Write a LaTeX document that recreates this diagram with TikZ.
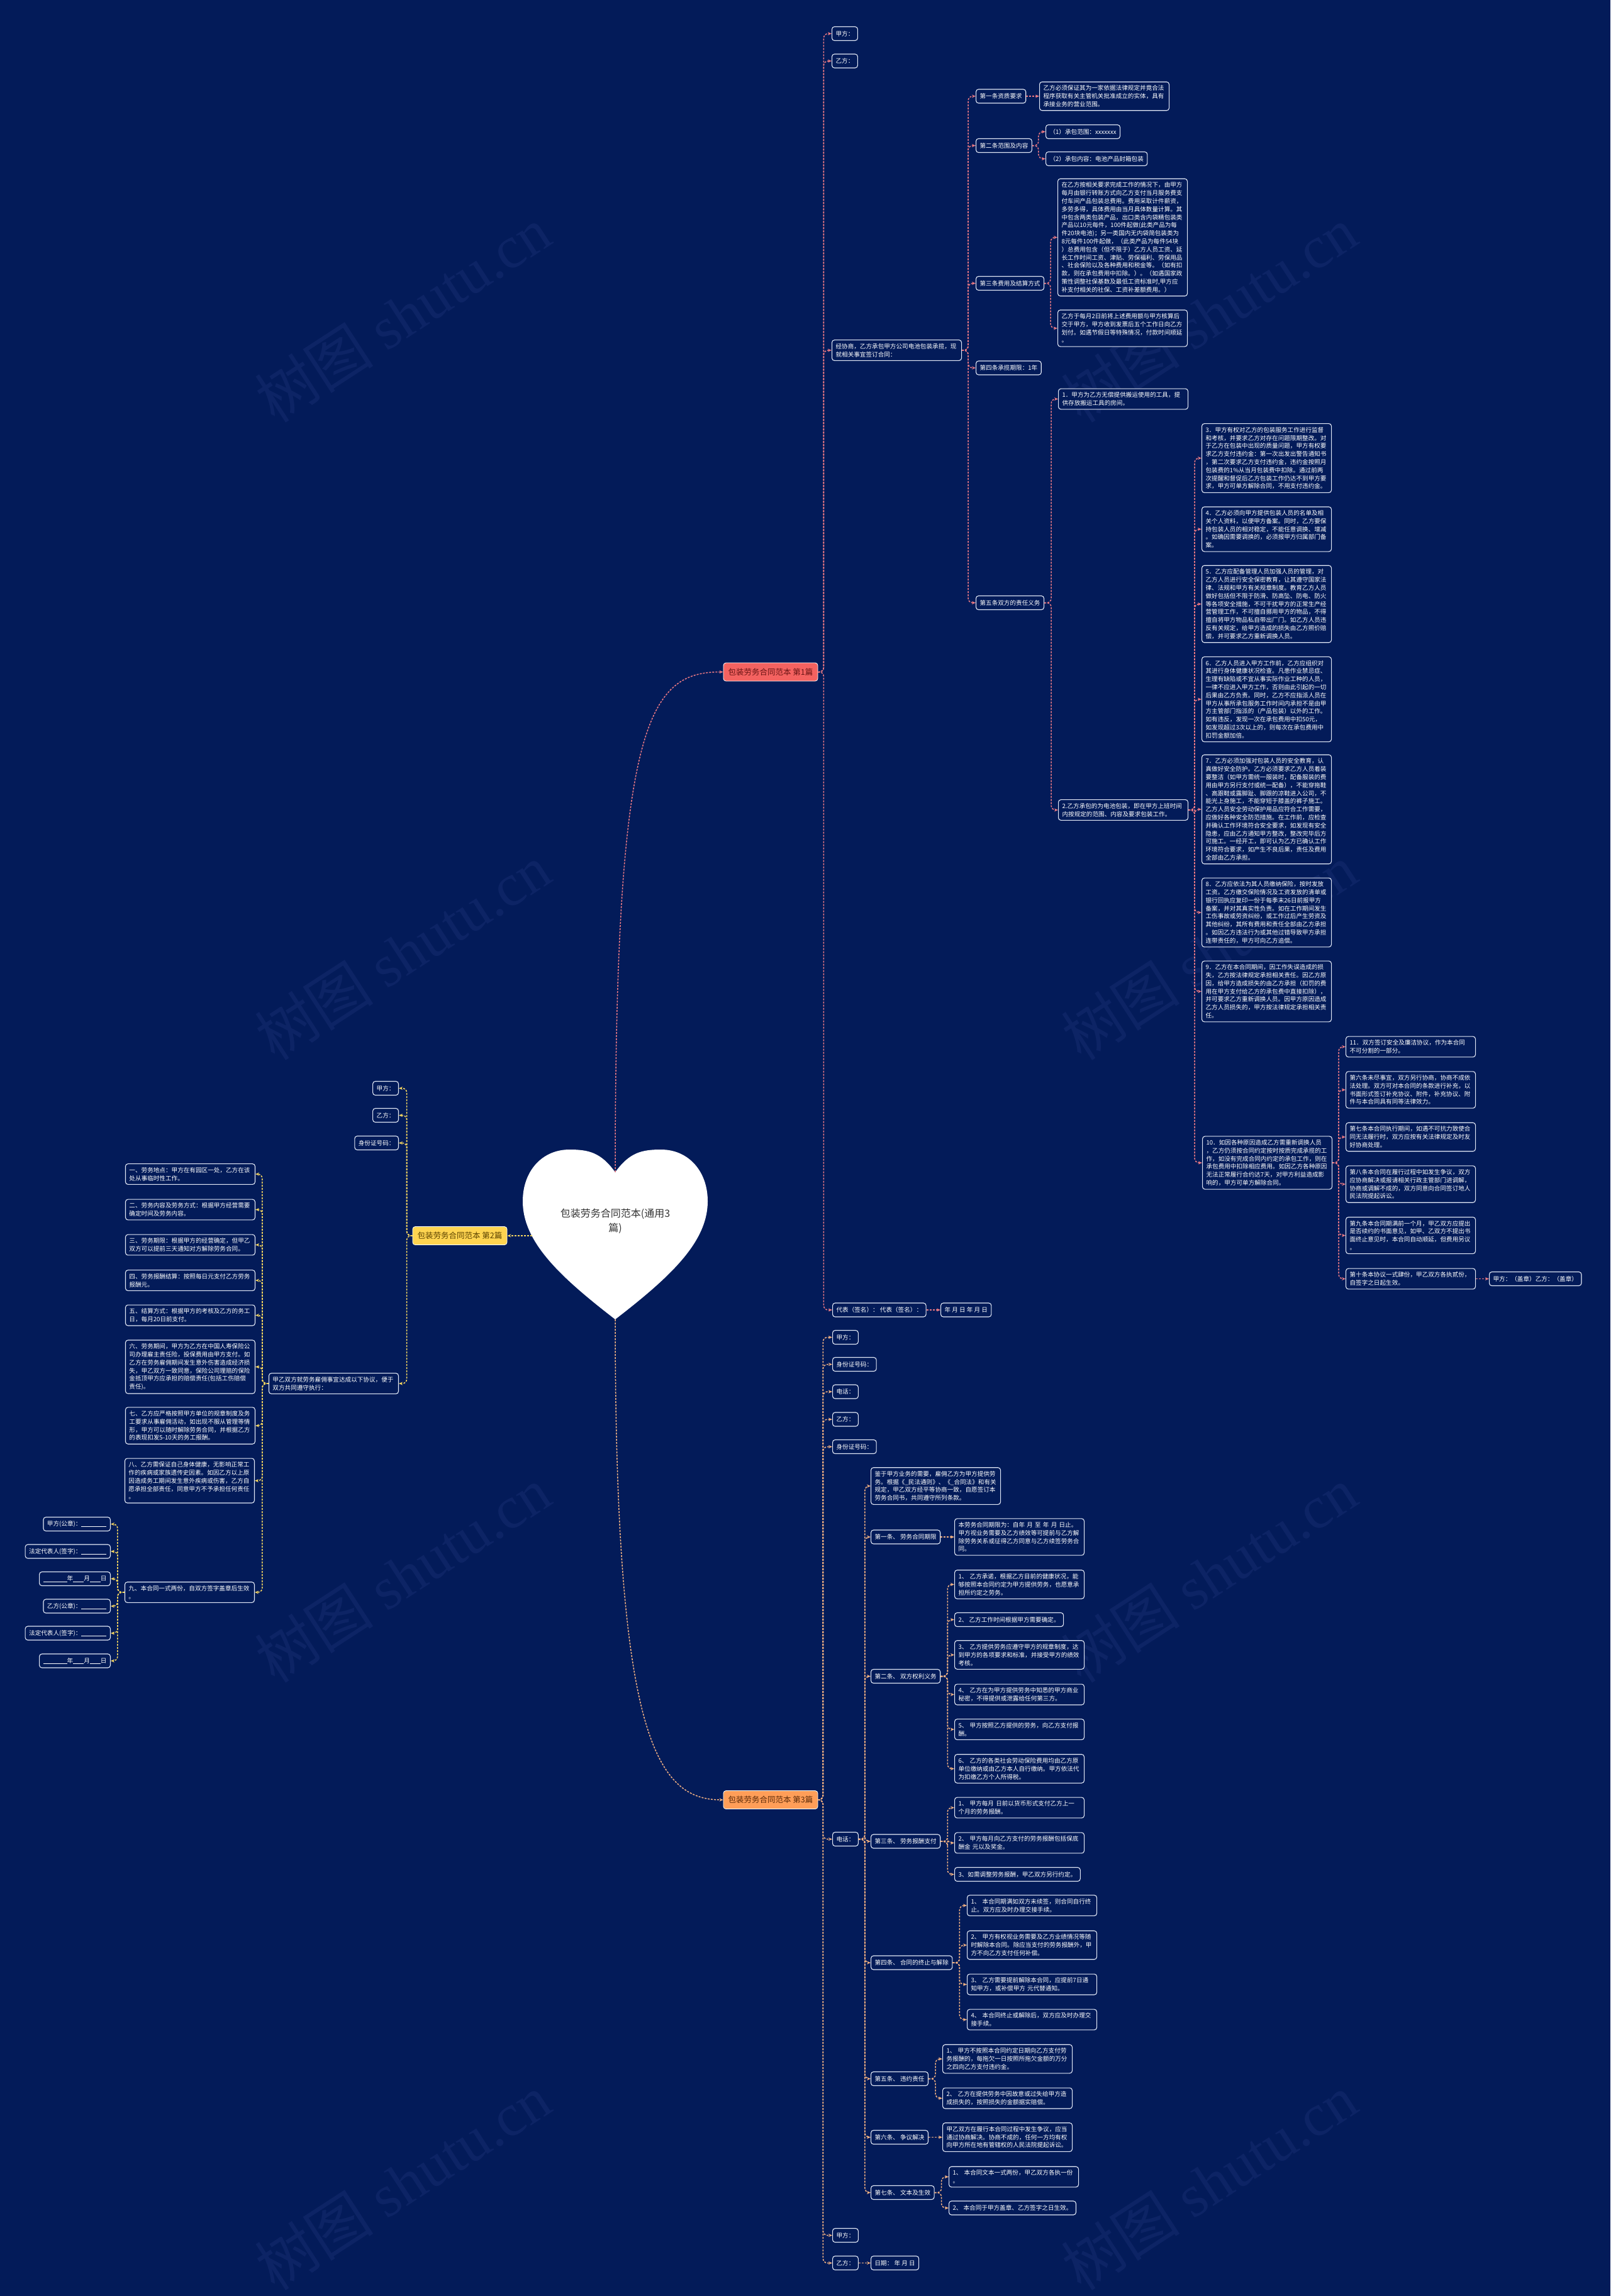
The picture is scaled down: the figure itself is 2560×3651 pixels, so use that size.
\documentclass[tikz,border=0pt]{standalone}
\usepackage{fontspec}
\setmainfont{Noto Sans CJK SC}
\newfontfamily\wmserif{Liberation Serif}
\usetikzlibrary{arrows.meta}
\definecolor{bgc}{RGB}{3,27,89}
\definecolor{bord}{RGB}{226,232,246}
\definecolor{cpink}{RGB}{236,122,132}
\definecolor{cyel}{RGB}{246,214,96}
\definecolor{corg}{RGB}{244,178,130}
\definecolor{lonefill}{RGB}{244,98,96}
\definecolor{lonetext}{RGB}{105,20,20}
\definecolor{ltwofill}{RGB}{255,212,80}
\definecolor{ltwotext}{RGB}{90,66,0}
\definecolor{lthreefill}{RGB}{255,158,88}
\definecolor{lthreetext}{RGB}{92,42,8}
\definecolor{wmc}{RGB}{13,36,101}
\newcommand\ulblank[1]{\rule[-1.5pt]{#1}{0.7pt}}
\begin{document}
\begin{tikzpicture}[x=1pt,y=-1pt,
  bx/.style={draw=bord, line width=1.1pt, rounded corners=4pt, fill=bgc, text=white,
    font=\fontsize{9.6}{12.8}\selectfont, inner xsep=6pt, inner ysep=5.5pt,
    align=left, anchor=west, minimum height=22pt},
  bxr/.style={bx, anchor=east},
  wide/.style={text width=194pt},
  lbl/.style={rounded corners=4pt, minimum width=150pt, minimum height=29pt, inner sep=0pt,
    font=\fontsize{12.5}{15}\selectfont, draw=white, line width=0.8pt},
  conn/.style={dash pattern=on 3pt off 2pt, line width=1.5pt, rounded corners=7pt,
    -{Stealth[length=6pt,width=5pt]}},
  cone/.style={conn, draw=cpink, fill=none},
  ctwo/.style={conn, draw=cyel},
  cthree/.style={conn, draw=corg},
  wm/.style={text=wmc, rotate=33, font=\fontsize{95}{95}\selectfont, inner sep=0pt}
]
\fill[bgc] (0,0) rectangle (2560,3651);
\useasboundingbox (0,0) rectangle (2560,3651);

% watermarks
\node[wm] (wma) at (640,500) {树图 {\wmserif shutu.cn}};
\node[wm] (wmb) at (1922,500) {树图 {\wmserif shutu.cn}};
\node[wm] (wmc) at (640,1514) {树图 {\wmserif shutu.cn}};
\node[wm] (wmd) at (1922,1514) {树图 {\wmserif shutu.cn}};
\node[wm] (wme) at (640,2504) {树图 {\wmserif shutu.cn}};
\node[wm] (wmf) at (1922,2504) {树图 {\wmserif shutu.cn}};
\node[wm] (wmg) at (640,3470) {树图 {\wmserif shutu.cn}};
\node[wm] (wmh) at (1922,3470) {树图 {\wmserif shutu.cn}};

% heart
\fill[white] (978,1864) .. controls (955,1832) and (935,1828) .. (905,1828)
  .. controls (862,1828) and (831,1862) .. (831,1910)
  .. controls (831,1975) and (890,2030) .. (978,2098)
  .. controls (1066,2030) and (1125,1975) .. (1125,1910)
  .. controls (1125,1862) and (1094,1828) .. (1051,1828)
  .. controls (1021,1828) and (1001,1832) .. (978,1864) -- cycle;
\node[font=\fontsize{16}{23}\selectfont, text=black!80, align=center] (root) at (978,1942) {包装劳务合同范本(通用3\\篇)};
\coordinate (hT) at (978,1864);
\coordinate (hB) at (978,2098);
\coordinate (hL) at (846,1965);

% branch labels
\node[lbl, fill=lonefill, text=lonetext] (L1) at (1225,1068.5) {包装劳务合同范本 第1篇};
\node[lbl, fill=ltwofill, text=ltwotext] (L2) at (731,1965) {包装劳务合同范本 第2篇};
\node[lbl, fill=lthreefill, text=lthreetext] (L3) at (1225,2862) {包装劳务合同范本 第3篇};

% ===== branch 1 =====
\node[bx] (a1) at (1322,53.5) {甲方：};
\node[bx] (a2) at (1322,97) {乙方：};
\node[bx,wide] (a3) at (1322,557) {经协商，乙方承包甲方公司电池包装承揽，现\\就相关事宜签订合同：};
\node[bx] (a4) at (1323,2083) {代表（签名）： 代表（签名）：};
\node[bx] (a4t) at (1495,2083) {年 月 日 年 月 日};

\node[bx] (s1) at (1551,153) {第一条资质要求};
\node[bx,wide] (s1t) at (1652,153) {乙方必须保证其为一家依据法律规定并竟合法\\程序获取有关主管机关批准成立的实体，具有\\承接业务的营业范围。};
\node[bx] (s2) at (1551,231.5) {第二条范围及内容};
\node[bx] (s2a) at (1662,209.5) {（1）承包范围：xxxxxxx};
\node[bx] (s2b) at (1662,252.5) {（2）承包内容：电池产品封箱包装};
\node[bx] (s3) at (1551,450.5) {第三条费用及结算方式};
\node[bx,wide] (s3a) at (1681,377.5) {在乙方按相关要求完成工作的情况下，由甲方\\每月由银行转账方式向乙方支付当月服务费支\\付车间产品包装总费用。费用采取计件薪资，\\多劳多得，具体费用由当月具体数量计算。其\\中包含两类包装产品，出口类含内袋精包装类\\产品以10元每件，100件起做(此类产品为每\\件20块电池)；另一类国内无内袋简包装类为\\8元每件100件起做，（此类产品为每件54块\\）总费用包含（但不限于）乙方人员工资、延\\长工作时间工资、津贴、劳保福利、劳保用品\\、社会保险以及各种费用和税金等。（如有扣\\款，则在承包费用中扣除。）。（如遇国家政\\策性调整社保基数及最低工资标准时,甲方应\\补支付相关的社保、工资补差额费用。）};
\node[bx,wide] (s3b) at (1681,522) {乙方于每月2日前将上述费用额与甲方核算后\\交于甲方，甲方收到发票后五个工作日向乙方\\划付。如遇节假日等特殊情况，付款时间顺延\\。};
\node[bx] (s4) at (1551,585) {第四条承揽期限：1年};
\node[bx] (s5) at (1551,958.5) {第五条双方的责任义务};

\node[bx,wide] (i1) at (1682,634.5) {1．甲方为乙方无偿提供搬运使用的工具，提\\供存放搬运工具的房间。};
\node[bx,wide] (i2) at (1682,1288) {2.乙方承包的为电池包装，即在甲方上班时间\\内按规定的范围、内容及要求包装工作。};
\node[bx,wide] (i3) at (1910,728.5) {3．甲方有权对乙方的包装服务工作进行监督\\和考核，并要求乙方对存在问题限期整改。对\\于乙方在包装中出现的质量问题，甲方有权要\\求乙方支付违约金：第一次出发出警告通知书\\，第二次要求乙方支付违约金，违约金按照月\\包装费的1\%从当月包装费中扣除。通过前两\\次提醒和督促后乙方包装工作仍达不到甲方要\\求，甲方可单方解除合同，不用支付违约金。};
\node[bx,wide] (i4) at (1910,841.5) {4．乙方必须向甲方提供包装人员的名单及相\\关个人资料，以便甲方备案。同时，乙方要保\\持包装人员的相对稳定，不能任意调换、增减\\。如确因需要调换的，必须报甲方归属部门备\\案。};
\node[bx,wide] (i5) at (1910,960.5) {5．乙方应配备管理人员加强人员的管理，对\\乙方人员进行安全保密教育，让其遵守国家法\\律、法规和甲方有关规章制度。教育乙方人员\\做好包括但不限于防滑、防高坠、防电、防火\\等各项安全措施，不可干扰甲方的正常生产经\\营管理工作，不可擅自挪用甲方的物品，不得\\擅自将甲方物品私自带出厂门。如乙方人员违\\反有关规定，给甲方造成的损失由乙方照价赔\\偿，并可要求乙方重新调换人员。};
\node[bx,wide] (i6) at (1910,1112) {6．乙方人员进入甲方工作前，乙方应组织对\\其进行身体健康状况检查。凡患作业禁忌症、\\生理有缺陷或不宜从事实际作业工种的人员，\\一律不应进入甲方工作，否则由此引起的一切\\后果由乙方负责。同时，乙方不应指派人员在\\甲方从事所承包服务工作时间内承担不是由甲\\方主管部门指派的（产品包装）以外的工作。\\如有违反，发现一次在承包费用中扣50元，\\如发现超过3次以上的，则每次在承包费用中\\扣罚金额加倍。};
\node[bx,wide] (i7) at (1910,1287) {7．乙方必须加强对包装人员的安全教育，认\\真做好安全防护。乙方必须要求乙方人员着装\\要整洁（如甲方需统一服装时，配备服装的费\\用由甲方另行支付或统一配备），不能穿拖鞋\\、高跟鞋或露脚趾、脚跟的凉鞋进入公司，不\\能光上身施工，不能穿短于膝盖的裤子施工。\\乙方人员安全劳动保护用品应符合工作需要，\\应做好各种安全防范措施。在工作前，应检查\\并确认工作环境符合安全要求，如发现有安全\\隐患，应由乙方通知甲方整改，整改完毕后方\\可施工。一经开工，即可认为乙方已确认工作\\环境符合要求，如产生不良后果，责任及费用\\全部由乙方承担。};
\node[bx,wide] (i8) at (1910,1451) {8．乙方应依法为其人员缴纳保险，按时发放\\工资。乙方缴交保险情况及工资发放的清单或\\银行回执应复印一份于每季末26日前报甲方\\备案，并对其真实性负责。如在工作期间发生\\工伤事故或劳资纠纷，或工作过后产生劳资及\\其他纠纷，其所有费用和责任全部由乙方承担\\。如因乙方违法行为或其他过错导致甲方承担\\连带责任的，甲方可向乙方追偿。};
\node[bx,wide] (i9) at (1910,1576.5) {9．乙方在本合同期间，因工作失误造成的损\\失，乙方按法律规定承担相关责任。因乙方原\\因，给甲方造成损失的由乙方承担（扣罚的费\\用在甲方支付给乙方的承包费中直接扣除），\\并可要求乙方重新调换人员。因甲方原因造成\\乙方人员损失的，甲方按法律规定承担相关责\\任。};
\node[bx,wide] (i10) at (1911,1849) {10．如因各种原因造成乙方需重新调换人员\\，乙方仍须按合同约定按时按质完成承揽的工\\作，如没有完成合同内约定的承包工作，则在\\承包费用中扣除相应费用。如因乙方各种原因\\无法正常履行合约达7天，对甲方利益造成影\\响的，甲方可单方解除合同。};
\node[bx,wide] (j11) at (2139,1664.5) {11．双方签订安全及廉洁协议，作为本合同\\不可分割的一部分。};
\node[bx,wide] (j6) at (2139,1733) {第六条未尽事宜，双方另行协商，协商不成依\\法处理。双方可对本合同的条款进行补充，以\\书面形式签订补充协议、附件，补充协议、附\\件与本合同具有同等法律效力。};
\node[bx,wide] (j7) at (2139,1808) {第七条本合同执行期间，如遇不可抗力致使合\\同无法履行时，双方应按有关法律规定及时友\\好协商处理。};
\node[bx,wide] (j8) at (2139,1883) {第八条本合同在履行过程中如发生争议，双方\\应协商解决或报请相关行政主管部门进调解，\\协商或调解不成的，双方同意向合同签订地人\\民法院提起诉讼。};
\node[bx,wide] (j9) at (2139,1964.5) {第九条本合同期满前一个月，甲乙双方应提出\\是否续约的书面意见，如甲、乙双方不提出书\\面终止意见时，本合同自动顺延，但费用另议\\。};
\node[bx,wide] (j10) at (2139,2033.5) {第十条本协议一式肆份，甲乙双方各执贰份，\\自签字之日起生效。};
\node[bx] (jsig) at (2367,2033.5) {甲方：（盖章）乙方：（盖章）};

% ===== branch 2 =====
\node[bxr] (b2a) at (634,1730.5) {甲方：};
\node[bxr] (b2b) at (634,1773.5) {乙方：};
\node[bxr] (b2c) at (634,1817.5) {身份证号码：};
\node[bxr,wide] (b2d) at (634,2200) {甲乙双方就劳务雇佣事宜达成以下协议，便于\\双方共同遵守执行：};
\node[bxr,wide] (k1) at (406,1867) {一、劳务地点：甲方在有园区一处，乙方在该\\处从事临时性工作。};
\node[bxr,wide] (k2) at (406,1923.5) {二、劳务内容及劳务方式：根据甲方经营需要\\确定时间及劳务内容。};
\node[bxr,wide] (k3) at (406,1979.5) {三、劳务期限：根据甲方的经营确定，但甲乙\\双方可以提前三天通知对方解除劳务合同。};
\node[bxr,wide] (k4) at (406,2036) {四、劳务报酬结算：按照每日元支付乙方劳务\\报酬元。};
\node[bxr,wide] (k5) at (406,2091.5) {五、结算方式：根据甲方的考核及乙方的务工\\日，每月20日前支付。};
\node[bxr,wide] (k6) at (406,2173.5) {六、劳务期间，甲方为乙方在中国人寿保险公\\司办理雇主责任险，投保费用由甲方支付。如\\乙方在劳务雇佣期间发生意外伤害造成经济损\\失，甲乙双方一致同意，保险公司理赔的保险\\金抵顶甲方应承担的赔偿责任(包括工伤赔偿\\责任)。};
\node[bxr,wide] (k7) at (406,2267) {七、乙方应严格按照甲方单位的规章制度及务\\工要求从事雇佣活动，如出现不服从管理等情\\形，甲方可以随时解除劳务合同，并根据乙方\\的表现扣发5-10天的务工报酬。};
\node[bxr,wide] (k8) at (405,2354.5) {八、乙方需保证自己身体健康，无影响正常工\\作的疾病或家族遗传史因素。如因乙方以上原\\因造成务工期间发生意外疾病或伤害，乙方自\\愿承担全部责任，同意甲方不予承担任何责任\\。};
\node[bxr,wide] (k9) at (405,2532) {九、本合同一式两份，自双方签字盖章后生效\\。};
\node[bxr] (m1) at (176,2423.5) {甲方(公章)：\ulblank{40pt}};
\node[bxr] (m2) at (176,2467) {法定代表人(签字)：\ulblank{40pt}};
\node[bxr] (m3) at (176,2510.5) {\ulblank{38pt}年\ulblank{17pt}月\ulblank{17pt}日};
\node[bxr] (m4) at (176,2554) {乙方(公章)：\ulblank{40pt}};
\node[bxr] (m5) at (176,2597) {法定代表人(签字)：\ulblank{40pt}};
\node[bxr] (m6) at (176,2641) {\ulblank{38pt}年\ulblank{17pt}月\ulblank{17pt}日};

% ===== branch 3 =====
\node[bx] (n1) at (1323,2126.5) {甲方：};
\node[bx] (n2) at (1323,2169.5) {身份证号码：};
\node[bx] (n3) at (1323,2213) {电话：};
\node[bx] (n4) at (1323,2257) {乙方：};
\node[bx] (n5) at (1323,2300.5) {身份证号码：};
\node[bx] (n6) at (1323,2924.5) {电话：};
\node[bx] (n7) at (1323,3554.5) {甲方：};
\node[bx] (n8) at (1323,3598.5) {乙方：};
\node[bx] (n8a) at (1384,3598.5) {日期： 年 月 日};

\node[bx,wide] (p0) at (1384,2363) {鉴于甲方业务的需要，雇佣乙方为甲方提供劳\\务。根据《\_民法通则》、《\_合同法》和有关\\规定，甲乙双方经平等协商一致，自愿签订本\\劳务合同书，共同遵守所列条款。};
\node[bx] (p1) at (1384,2444) {第一条、 劳务合同期限};
\node[bx,wide] (p1t) at (1517,2444) {本劳务合同期限为：自年 月 至 年 月 日止。\\甲方视业务需要及乙方绩效等可提前与乙方解\\除劳务关系或征得乙方同意与乙方续签劳务合\\同。};
\node[bx] (p2) at (1384,2665.5) {第二条、 双方权利义务};
\node[bx,wide] (q1) at (1517,2519.5) {1、 乙方承诺，根据乙方目前的健康状况，能\\够按照本合同约定为甲方提供劳务，也愿意承\\担所约定之劳务。};
\node[bx] (q2) at (1517,2575.5) {2、 乙方工作时间根据甲方需要确定。};
\node[bx,wide] (q3) at (1517,2631.5) {3、 乙方提供劳务应遵守甲方的规章制度，达\\到甲方的各项要求和标准，并接受甲方的绩效\\考核。};
\node[bx,wide] (q4) at (1517,2694.5) {4、 乙方在为甲方提供劳务中知悉的甲方商业\\秘密，不得提供或泄露给任何第三方。};
\node[bx,wide] (q5) at (1517,2750) {5、 甲方按照乙方提供的劳务，向乙方支付报\\酬。};
\node[bx,wide] (q6) at (1517,2812.5) {6、 乙方的各类社会劳动保险费用均由乙方原\\单位缴纳或由乙方本人自行缴纳。甲方依法代\\为扣缴乙方个人所得税。};
\node[bx] (p3) at (1384,2928) {第三条、 劳务报酬支付};
\node[bx,wide] (r1) at (1517,2874.5) {1、 甲方每月 日前以货币形式支付乙方上一\\个月的劳务报酬。};
\node[bx,wide] (r2) at (1517,2930.5) {2、 甲方每月向乙方支付的劳务报酬包括保底\\酬金 元以及奖金。};
\node[bx] (r3) at (1517,2980.5) {3、如需调整劳务报酬，甲乙双方另行约定。};
\node[bx] (p4) at (1384,3121) {第四条、 合同的终止与解除};
\node[bx,wide] (t1) at (1537,3030) {1、 本合同期满如双方未续签，则合同自行终\\止。双方应及时办理交接手续。};
\node[bx,wide] (t2) at (1537,3093) {2、 甲方有权视业务需要及乙方业绩情况等随\\时解除本合同。除应当支付的劳务报酬外，甲\\方不向乙方支付任何补偿。};
\node[bx,wide] (t3) at (1537,3155.5) {3、 乙方需要提前解除本合同，应提前7日通\\知甲方，或补偿甲方 元代替通知。};
\node[bx,wide] (t4) at (1537,3211.5) {4、 本合同终止或解除后，双方应及时办理交\\接手续。};
\node[bx] (p5) at (1384,3305.5) {第五条、 违约责任};
\node[bx,wide] (v1) at (1498,3274) {1、 甲方不按照本合同约定日期向乙方支付劳\\务报酬的，每拖欠一日按照所拖欠金额的万分\\之四向乙方支付违约金。};
\node[bx,wide] (v2) at (1498,3336.5) {2、 乙方在提供劳务中因故意或过失给甲方造\\成损失的，按照损失的金额据实赔偿。};
\node[bx] (p6) at (1384,3398.5) {第六条、 争议解决};
\node[bx,wide] (p6t) at (1498,3398.5) {甲乙双方在履行本合同过程中发生争议，应当\\通过协商解决。协商不成的，任何一方均有权\\向甲方所在地有管辖权的人民法院提起诉讼。};
\node[bx] (p7) at (1384,3486.5) {第七条、 文本及生效};
\node[bx,wide] (w1) at (1508,3461.5) {1、 本合同文本一式两份，甲乙双方各执一份\\。};
\node[bx] (w2) at (1508,3511) {2、 本合同于甲方盖章、乙方签字之日生效。};

% ===== connectors =====
\draw[cone] (hT) .. controls (978,1150) and (1030,1068.5) .. (L1.west);
\draw[ctwo] (hL) -- (L2.east);
\draw[cthree] (hB) .. controls (978,2750) and (1040,2862) .. (L3.west);

\foreach \c in {a1,a2,a3,a4} \draw[cone] (L1.east) -- ++(9,0) |- (\c.west);
\draw[cone] (a4.east) -- (a4t.west);
\foreach \c in {s1,s2,s3,s4,s5} \draw[cone] (a3.east) -- ++(10,0) |- (\c.west);
\draw[cone] (s1.east) -- (s1t.west);
\foreach \c in {s2a,s2b} \draw[cone] (s2.east) -- ++(10,0) |- (\c.west);
\foreach \c in {s3a,s3b} \draw[cone] (s3.east) -- ++(10,0) |- (\c.west);
\foreach \c in {i1,i2} \draw[cone] (s5.east) -- ++(11,0) |- (\c.west);
\foreach \c in {i3,i4,i5,i6,i7,i8,i9,i10} \draw[cone] (i2.east) -- ++(10,0) |- (\c.west);
\foreach \c in {j11,j6,j7,j8,j9,j10} \draw[cone] (i10.east) -- ++(10,0) |- (\c.west);
\draw[cone] (j10.east) -- (jsig.west);

\foreach \c in {b2a,b2b,b2c,b2d} \draw[ctwo] (L2.west) -- ++(-9,0) |- (\c.east);
\foreach \c in {k1,k2,k3,k4,k5,k6,k7,k8,k9} \draw[ctwo] (b2d.west) -- ++(-10,0) |- (\c.east);
\foreach \c in {m1,m2,m3,m4,m5,m6} \draw[ctwo] (k9.west) -- ++(-11,0) |- (\c.east);

\foreach \c in {n1,n2,n3,n4,n5,n6,n7,n8} \draw[cthree] (L3.east) -- ++(8,0) |- (\c.west);
\draw[cthree] (n8.east) -- (n8a.west);
\foreach \c in {p0,p1,p2,p3,p4,p5,p6,p7} \draw[cthree] (n6.east) -- ++(10,0) |- (\c.west);
\draw[cthree] (p1.east) -- (p1t.west);
\foreach \c in {q1,q2,q3,q4,q5,q6} \draw[cthree] (p2.east) -- ++(11,0) |- (\c.west);
\foreach \c in {r1,r2,r3} \draw[cthree] (p3.east) -- ++(11,0) |- (\c.west);
\foreach \c in {t1,t2,t3,t4} \draw[cthree] (p4.east) -- ++(11,0) |- (\c.west);
\foreach \c in {v1,v2} \draw[cthree] (p5.east) -- ++(11,0) |- (\c.west);
\draw[cthree] (p6.east) -- (p6t.west);
\foreach \c in {w1,w2} \draw[cthree] (p7.east) -- ++(11,0) |- (\c.west);
\end{tikzpicture}
\end{document}
